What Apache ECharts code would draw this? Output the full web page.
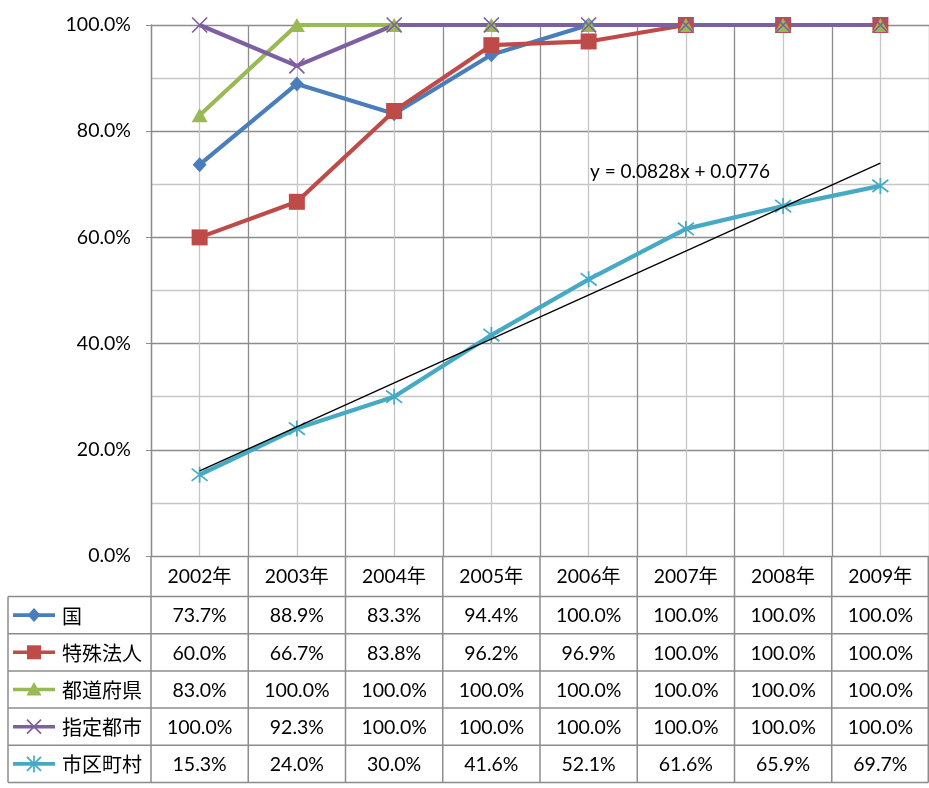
<!DOCTYPE html>
<html>
<head>
<meta charset="utf-8">
<script src="https://cdn.jsdelivr.net/npm/echarts@6/dist/echarts.min.js"></script>
<style>
  html, body { margin: 0; padding: 0; background: #fff; }
  #chart { width: 929px; height: 788px; }
</style>
</head>
<body>
<div id="chart"></div>
<script>
// Years (category axis / table header)
const years = ['2002年', '2003年', '2004年', '2005年', '2006年', '2007年', '2008年', '2009年'];

// Ratios per organisation type
const kuni        = [0.737, 0.889, 0.833, 0.944, 1.000, 1.000, 1.000, 1.000];
const tokushu     = [0.600, 0.667, 0.838, 0.962, 0.969, 1.000, 1.000, 1.000];
const todofuken   = [0.830, 1.000, 1.000, 1.000, 1.000, 1.000, 1.000, 1.000];
const shitei      = [1.000, 0.923, 1.000, 1.000, 1.000, 1.000, 1.000, 1.000];
const shikuchoson = [0.153, 0.240, 0.300, 0.416, 0.521, 0.616, 0.659, 0.697];

const seriesNames = ['国', '特殊法人', '都道府県', '指定都市', '市区町村'];
const seriesData  = [kuni, tokushu, todofuken, shitei, shikuchoson];

// Linear trend of 市区町村 (x = 1..8)
const trendSlope = 0.0828;
const trendIntercept = 0.0776;

const colors = ['#4a7ebb', '#be4b48', '#98b954', '#7d60a0', '#46aac5'];
const CROSS = 'path://M0,0L10,10M10,0L0,10';
const ASTER = 'path://M0,0L10,10M10,0L0,10M5,-1.5L5,11.5';
const symbols = ['diamond', 'rect', 'triangle', CROSS, ASTER];
const symbolSizes = [[14, 15], 16, [16, 14], 15, 16];

const FONT = 'Lato, "Noto Sans CJK JP", sans-serif';
const JP_FONT = '"Noto Sans CJK JP", sans-serif';
const MAJOR = '#8c8c8c';
const MINOR = '#c6c6c6';

const pct = v => (v * 100).toFixed(1) + '%';

const chart = echarts.init(document.getElementById('chart'), null, { renderer: 'canvas' });

const lineSeries = seriesNames.map((name, i) => {
  const stroked = i >= 3;
  return {
    name,
    type: 'line',
    xAxisIndex: 0,
    yAxisIndex: 0,
    data: seriesData[i],
    symbol: symbols[i],
    symbolSize: symbolSizes[i],
    showAllSymbol: true,
    lineStyle: { color: colors[i], width: 4.2 },
    itemStyle: stroked
      ? { color: 'none', borderColor: colors[i], borderWidth: 1.7 }
      : { color: colors[i], borderWidth: 0 },
    emphasis: { disabled: true },
    animation: false
  };
});

const trendSeries = {
  name: 'trend',
  type: 'line',
  xAxisIndex: 0,
  yAxisIndex: 0,
  data: [
    [0, trendSlope * 1 + trendIntercept],
    [years.length - 1, trendSlope * years.length + trendIntercept]
  ],
  symbol: 'none',
  lineStyle: { color: '#000', width: 1.3 },
  z: 5,
  emphasis: { disabled: true },
  animation: false
};

chart.setOption({
  animation: false,
  backgroundColor: '#fff',
  grid: { left: 151, right: 0, top: 25, bottom: 232, containLabel: false },
  xAxis: [
    {
      type: 'category',
      data: years,
      boundaryGap: true,
      axisLine: { show: false },
      axisTick: { show: false },
      axisLabel: { show: false },
      splitLine: { show: false }
    },
    {
      // grid helper: boundaries (major) and category centres (minor)
      type: 'value',
      min: 0,
      max: years.length,
      interval: 1,
      show: true,
      axisLine: { show: false },
      axisTick: { show: false },
      axisLabel: { show: false },
      splitLine: { show: true, lineStyle: { color: MAJOR, width: 1.3 } },
      minorTick: { show: false, splitNumber: 2 },
      minorSplitLine: { show: true, lineStyle: { color: MINOR, width: 1.3 } }
    }
  ],
  yAxis: {
    type: 'value',
    min: 0,
    max: 1,
    interval: 0.2,
    axisLine: { show: true, lineStyle: { color: MAJOR, width: 1.3 } },
    axisTick: { show: true, length: 5, lineStyle: { color: MAJOR } },
    axisLabel: {
      formatter: v => pct(v),
      color: '#000',
      fontFamily: FONT,
      fontSize: 19.5,
      margin: 20
    },
    splitLine: { show: true, lineStyle: { color: MAJOR, width: 1.3 } },
    minorTick: { show: false, splitNumber: 2 },
    minorSplitLine: { show: true, lineStyle: { color: MINOR, width: 1.3 } }
  },
  series: lineSeries.concat([trendSeries])
});

// Data table under the plot, positioned from the axes
function buildTable() {
  const colX = years.map((_, i) => chart.convertToPixel({ xAxisIndex: 0 }, i));
  const bounds = [];
  for (let b = 0; b <= years.length; b++) bounds.push(chart.convertToPixel({ xAxisIndex: 1 }, b));
  const y0 = chart.convertToPixel({ yAxisIndex: 0 }, 0);
  const headerH = 40.5;
  const rowH = 37.2;
  const legendLeft = 8;
  const right = bounds[bounds.length - 1] - 0.7;
  const rowTop = y0 + headerH;
  const tableBottom = rowTop + rowH * seriesNames.length;

  const els = [];
  const line = (x1, y1, x2, y2) => els.push({
    type: 'line', silent: true, z: 10,
    shape: { x1, y1, x2, y2 },
    style: { stroke: MAJOR, lineWidth: 1.5 }
  });
  const text = (x, y, str, font, size, align) => els.push({
    type: 'text', silent: true, z: 11,
    x, y,
    style: {
      text: str, fill: '#000', font: size + 'px ' + font,
      align: align || 'center', verticalAlign: 'middle'
    }
  });

  // vertical borders
  bounds.forEach((bx, k) => {
    const x = k === bounds.length - 1 ? right : bx;
    line(x, y0, x, tableBottom);
  });
  line(legendLeft, rowTop, legendLeft, tableBottom);
  // horizontal borders
  for (let r = 0; r <= seriesNames.length; r++) {
    const y = rowTop + r * rowH;
    line(legendLeft, y, right, y);
  }

  // header
  years.forEach((yr, i) => text(colX[i], y0 + headerH / 2 + 1, yr, FONT, 19.3));

  // rows
  seriesNames.forEach((name, r) => {
    const cy = rowTop + r * rowH + rowH / 2 + 1;
    // legend key: line + marker
    const lx1 = 13, lx2 = 55, mx = 34;
    const my = cy - 1;
    els.push({
      type: 'line', silent: true, z: 11,
      shape: { x1: lx1, y1: my, x2: lx2, y2: my },
      style: { stroke: colors[r], lineWidth: 3.6 }
    });
    if (r === 0) {
      els.push({ type: 'polygon', silent: true, z: 12,
        shape: { points: [[mx, my - 7], [mx + 6.5, my], [mx, my + 7], [mx - 6.5, my]] },
        style: { fill: colors[r] } });
    } else if (r === 1) {
      els.push({ type: 'rect', silent: true, z: 12,
        shape: { x: mx - 7, y: my - 7, width: 14, height: 14 },
        style: { fill: colors[r] } });
    } else if (r === 2) {
      els.push({ type: 'polygon', silent: true, z: 12,
        shape: { points: [[mx, my - 7.5], [mx + 7.5, my + 6], [mx - 7.5, my + 6]] },
        style: { fill: colors[r] } });
    } else {
      const d = 7;
      const segs = [[mx - d, my - d, mx + d, my + d], [mx + d, my - d, mx - d, my + d]];
      if (r === 4) segs.push([mx, my - d - 1.5, mx, my + d + 1.5]);
      segs.forEach(s => els.push({ type: 'line', silent: true, z: 12,
        shape: { x1: s[0], y1: s[1], x2: s[2], y2: s[3] },
        style: { stroke: colors[r], lineWidth: 1.7 } }));
    }
    text(62, cy, name, JP_FONT, 20, 'left');
    seriesData[r].forEach((v, i) => text(colX[i], cy, pct(v), FONT, 19.5));
  });

  // trend equation label
  els.push({
    type: 'text', silent: true, z: 11,
    x: 590, y: 172,
    style: {
      text: 'y = ' + trendSlope.toFixed(4) + 'x + ' + trendIntercept.toFixed(4),
      fill: '#000', font: '19px ' + FONT, align: 'left', verticalAlign: 'middle'
    }
  });

  chart.setOption({ graphic: { elements: els } });
}

buildTable();
</script>
</body>
</html>
